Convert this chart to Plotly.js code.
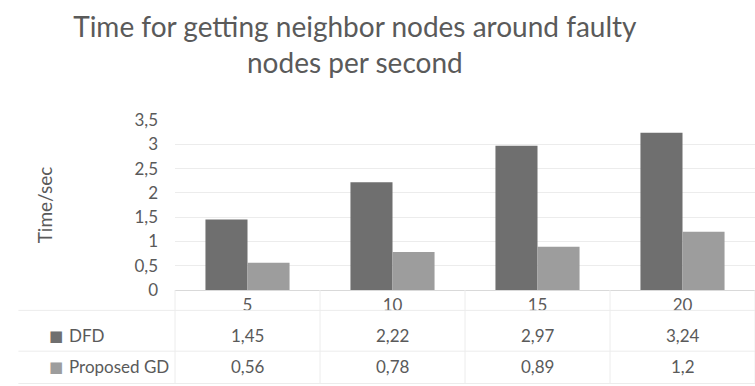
<!DOCTYPE html>
<html><head><meta charset="utf-8">
<script src="https://cdn.plot.ly/plotly-3.0.1.min.js"></script>
<style>html,body{margin:0;padding:0;background:#fff}#c{width:755px;height:386px}</style>
</head><body><div id="c"></div>
<script>
const categories = ['5', '10', '15', '20'];
const dfd = [1.45, 2.22, 2.97, 3.24];
const proposedGD = [0.56, 0.78, 0.89, 1.2];
const seriesNames = ['DFD', 'Proposed GD'];
const yTicks = [0, 0.5, 1, 1.5, 2, 2.5, 3, 3.5];

const colDFD = '#6f6f6f';
const colGD = '#9d9d9d';
const textCol = '#5a5a5a';
const fontFam = 'Lato, "Open Sans", sans-serif';

const fmt = v => String(v).replace('.', ',');

const traces = [
  {type:'bar', name:seriesNames[0], x:categories, y:dfd, marker:{color:colDFD}},
  {type:'bar', name:seriesNames[1], x:categories, y:proposedGD, marker:{color:colGD}}
];

const rowY = [-0.27, -0.45];
const annotations = [];
[dfd, proposedGD].forEach((arr, r) => {
  arr.forEach((v, i) => {
    annotations.push({xref:'x', yref:'paper', x:i, y:rowY[r], yanchor:'middle', text:fmt(v),
      showarrow:false, font:{size:17, color:textCol, family:fontFam}});
  });
});
const keyCols = [colDFD, colGD];
seriesNames.forEach((n, r) => {
  annotations.push({xref:'paper', yref:'paper', x:-0.205, y:rowY[r], xanchor:'center', yanchor:'middle', text:'■',
    showarrow:false, font:{size:15, color:keyCols[r], family:'DejaVu Sans'}});
  annotations.push({xref:'paper', yref:'paper', x:-0.186, y:rowY[r], xanchor:'left', yanchor:'middle', text:n,
    showarrow:false, font:{size:17, color:textCol, family:fontFam}});
});

const shapes = [];
[-0.12, -0.36, -0.55].forEach(y => shapes.push({type:'line', xref:'paper', yref:'paper', x0:-0.27, x1:1, y0:y, y1:y, line:{color:'#ececec', width:1}}));
[0, 0.25, 0.5, 0.75, 1].forEach(x => shapes.push({type:'line', xref:'paper', yref:'paper', x0:x, x1:x, y0:-0.55, y1:0, line:{color:'#ececec', width:1}}));

const layout = {
  width:755, height:386,
  margin:{l:175, r:0, t:120, b:96},
  paper_bgcolor:'#fff', plot_bgcolor:'#fff',
  separators:',.',
  showlegend:false,
  barmode:'group', bargap:0.42, bargroupgap:0,
  font:{family:fontFam, color:textCol},
  title:{text:'Time for getting neighbor nodes around faulty<br>nodes per second',
    x:0.47, xanchor:'center', xref:'container', y:0.905, yanchor:'middle', yref:'container',
    font:{size:28, color:textCol, family:fontFam}},
  xaxis:{type:'category', range:[-0.5, 3.5], tickfont:{size:17, color:textCol}, showgrid:false, ticks:'',
    showline:true, linecolor:'#d9d9d9', linewidth:1},
  yaxis:{range:[0, 3.5], tickvals:yTicks, ticktext:yTicks.map(fmt), tickfont:{size:17, color:textCol},
    gridcolor:'#ececec', zeroline:false, ticklabelstandoff:16,
    title:{text:'Time/sec', font:{size:19, color:textCol}, standoff:76}},
  annotations:annotations, shapes:shapes
};
Plotly.newPlot('c', traces, layout, {displayModeBar:false, staticPlot:true});
</script></body></html>
